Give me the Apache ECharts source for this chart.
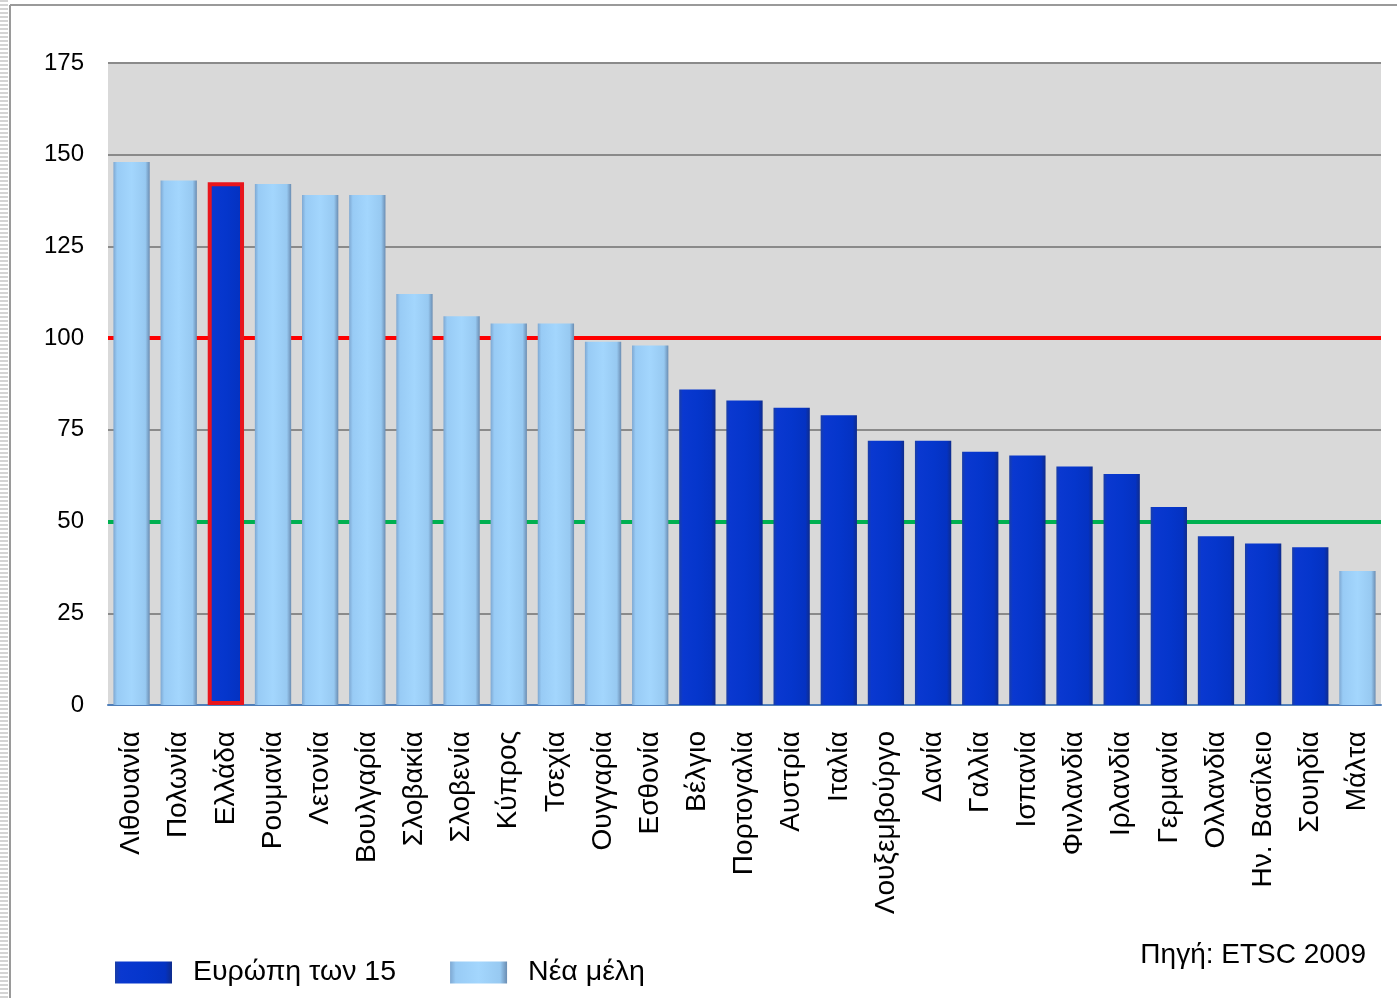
<!DOCTYPE html>
<html>
<head>
<meta charset="utf-8">
<script src="https://cdn.jsdelivr.net/npm/echarts@6/dist/echarts.min.js"></script>
<style>
  html, body { margin: 0; padding: 0; background: #fff; }
  #chart { width: 1397px; height: 998px; }
</style>
</head>
<body>
<div id="chart"></div>
<script>
const countries = [
  'Λιθουανία', 'Πολωνία', 'Ελλάδα', 'Ρουμανία', 'Λετονία', 'Βουλγαρία', 'Σλοβακία',
  'Σλοβενία', 'Κύπρος', 'Τσεχία', 'Ουγγαρία', 'Εσθονία', 'Βέλγιο', 'Πορτογαλία',
  'Αυστρία', 'Ιταλία', 'Λουξεμβούργο', 'Δανία', 'Γαλλία', 'Ισπανία', 'Φινλανδία',
  'Ιρλανδία', 'Γερμανία', 'Ολλανδία', 'Ην. Βασίλειο', 'Σουηδία', 'Μάλτα'
]
const values = [
  148, 143, 142.5, 142, 139, 139, 112, 106, 104, 104, 99, 98, 86, 83,
  81, 79, 72, 72, 69, 68, 65, 63, 54, 46, 44, 43, 36.5
]
// 1 = Ευρώπη των 15, 0 = Νέα μέλη
const eu15 = [
  0, 0, 1, 0, 0, 0, 0, 0, 0, 0, 0, 0, 1, 1,
  1, 1, 1, 1, 1, 1, 1, 1, 1, 1, 1, 1, 0
]
const highlighted = 'Ελλάδα'
const refLines = [100, 50]
const yTicks = [0, 175, 25]

const darkFill = new echarts.graphic.LinearGradient(0, 0, 1, 0, [
  { offset: 0, color: '#1a3ea6' },
  { offset: 0.1, color: '#0a38d0' },
  { offset: 0.5, color: '#0536cc' },
  { offset: 0.88, color: '#0432c2' },
  { offset: 1, color: '#0f2c8c' }
])
const lightFill = new echarts.graphic.LinearGradient(0, 0, 1, 0, [
  { offset: 0, color: '#7ea8d2' },
  { offset: 0.1, color: '#98cbf5' },
  { offset: 0.5, color: '#a3d6fd' },
  { offset: 0.88, color: '#97c9f1' },
  { offset: 1, color: '#6b8db2' }
])

function seriesData(flag) {
  return values.map((v, i) => {
    if (eu15[i] !== flag) return '-'
    if (countries[i] === highlighted) {
      return { value: v, itemStyle: { borderColor: '#e8161c', borderWidth: 4 } }
    }
    return v
  })
}

const font = 'Liberation Sans, Arial, sans-serif'
const chart = echarts.init(document.getElementById('chart'))
chart.setOption({
  animation: false,
  textStyle: { fontFamily: font, color: '#000' },
  grid: {
    left: 108, right: 16, top: 63, bottom: 293,
    show: true, backgroundColor: '#d9d9d9', borderWidth: 0
  },
  legend: {
    left: 115, top: 958, padding: 0,
    itemWidth: 57, itemHeight: 22, itemGap: 54,
    icon: 'rect',
    textStyle: { fontSize: 28.5, color: '#000', padding: [0, 0, 0, 16] },
    data: ['Ευρώπη των 15', 'Νέα μέλη']
  },
  xAxis: {
    type: 'category',
    data: countries,
    axisLine: { lineStyle: { color: '#4f7fba', width: 2 } },
    axisTick: { show: false },
    axisLabel: { rotate: 90, fontSize: 28, color: '#000', margin: 26, interval: 0 }
  },
  yAxis: {
    type: 'value',
    min: yTicks[0], max: yTicks[1], interval: yTicks[2],
    axisLine: { show: false },
    axisTick: { show: false },
    axisLabel: { fontSize: 24, color: '#000', margin: 24 },
    splitLine: { lineStyle: { color: '#8a8a8a', width: 2 } }
  },
  series: [
    {
      type: 'line', data: [], z: 1, silent: true,
      markLine: {
        z: 1, silent: true, symbol: 'none', label: { show: false },
        data: [
          { yAxis: refLines[0], lineStyle: { color: '#ff0000', width: 4, type: 'solid' } },
          { yAxis: refLines[1], lineStyle: { color: '#00b050', width: 4, type: 'solid' } }
        ]
      }
    },
    {
      name: 'Ευρώπη των 15', type: 'bar', z: 3,
      barWidth: '77%', barGap: '-100%',
      itemStyle: { color: darkFill },
      data: seriesData(1)
    },
    {
      name: 'Νέα μέλη', type: 'bar', z: 3,
      barWidth: '77%', barGap: '-100%',
      itemStyle: { color: lightFill },
      data: seriesData(0)
    }
  ],
  graphic: [
    {
      type: 'line', silent: true,
      shape: { x1: 4, y1: 0, x2: 4, y2: 998 },
      style: { stroke: '#d4d4d4', lineWidth: 8, lineDash: [2, 2] }
    },
    {
      type: 'line', silent: true,
      shape: { x1: 10, y1: 5, x2: 1397, y2: 5 },
      style: { stroke: '#9a9a9a', lineWidth: 2 }
    },
    {
      type: 'line', silent: true,
      shape: { x1: 10, y1: 5, x2: 10, y2: 998 },
      style: { stroke: '#9a9a9a', lineWidth: 2 }
    },
    {
      type: 'text', right: 31, top: 941, silent: true,
      style: { text: 'Πηγή: ETSC 2009', fontSize: 28, fill: '#000', fontFamily: font }
    }
  ]
})
</script>
</body>
</html>
